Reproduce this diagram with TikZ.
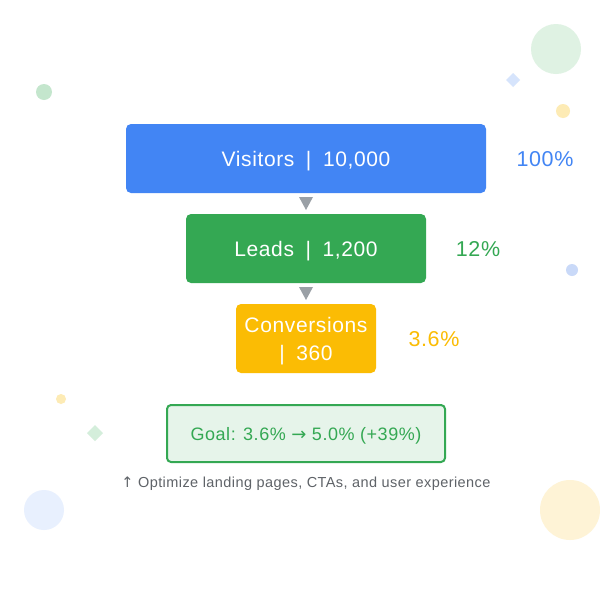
\documentclass[tikz,border=0pt]{standalone}
\usepackage{fontspec}
\setmainfont{Liberation Sans}[LetterSpace=3]
\newfontfamily\symfont{DejaVu Sans}
\usetikzlibrary{shapes.geometric,calc}
\definecolor{gblue}{HTML}{4285F4}
\definecolor{ggreen}{HTML}{34A853}
\definecolor{gyellow}{HTML}{FBBC04}
\definecolor{ggray}{HTML}{9AA0A6}
\definecolor{gtext}{HTML}{5F6368}
\definecolor{goalfill}{HTML}{E6F4EA}
\begin{document}
\begin{tikzpicture}[x=1pt,y=-1pt,
  stage/.style={rounded corners=5pt},
  stagetext/.style={text=white, font=\fontsize{21}{28}\selectfont, anchor=base},
  pct/.style={font=\fontsize{21.5}{24}\selectfont, anchor=base}]
\useasboundingbox (0,0) rectangle (600,600);
\fill[white] (0,0) rectangle (600,600);
% decorations
\fill[color={rgb,255:red,223;green,242;blue,227}] (556,49) circle (25);
\fill[color={rgb,255:red,196;green,230;blue,205}] (44,92) circle (8);
\fill[color={rgb,255:red,214;green,228;blue,252}] (513,73) -- (520,80) -- (513,87) -- (506,80) -- cycle;
\fill[color={rgb,255:red,253;green,235;blue,181}] (563,111) circle (7);
\fill[color={rgb,255:red,201;green,217;blue,248}] (572,270) circle (6);
\fill[color={rgb,255:red,253;green,235;blue,181}] (61,399) circle (5);
\fill[color={rgb,255:red,212;green,238;blue,219}] (95,425) -- (103,433) -- (95,441) -- (87,433) -- cycle;
\fill[color={rgb,255:red,232;green,240;blue,254}] (44,510) circle (20);
\fill[color={rgb,255:red,254;green,243;blue,214}] (570,510) circle (30);
% stages
\node[stage, fill=gblue, minimum width=360pt, minimum height=69pt] (vis) at (306,158.5) {};
\node[stagetext] (vist) at (306,166.5) {Visitors\hspace{0.55em}|\hspace{0.55em}10,000};
\node[stage, fill=ggreen, minimum width=240pt, minimum height=69pt] (lead) at (306,248.5) {};
\node[stagetext] (leadt) at (306,256.5) {Leads\hspace{0.55em}|\hspace{0.55em}1,200};
\node[stage, fill=gyellow, minimum width=140pt, minimum height=69pt] (conv) at (306,338.5) {};
\node[stagetext] (convt1) at (306,332) {Conversions};
\node[stagetext] (convt2) at (306,360) {|\hspace{0.55em}360};
% percentages
\node[pct, text=gblue] (p1) at (545,166.5) {100\%};
\node[pct, text=ggreen] (p2) at (478,256.5) {12\%};
\node[pct, text=gyellow] (p3) at (434,346.5) {3.6\%};
% arrows
\coordinate (a1) at ($(vis.south)!0.5!(lead.north)$);
\fill[ggray] ([xshift=-7pt,yshift=6.5pt]a1) -- ([xshift=7pt,yshift=6.5pt]a1) -- ([yshift=-6.5pt]a1) -- cycle;
\coordinate (a2) at ($(lead.south)!0.5!(conv.north)$);
\fill[ggray] ([xshift=-7pt,yshift=6.5pt]a2) -- ([xshift=7pt,yshift=6.5pt]a2) -- ([yshift=-6.5pt]a2) -- cycle;
% goal
\node[draw=ggreen, line width=2pt, fill=goalfill, rounded corners=4pt, minimum width=278pt, minimum height=57pt] (goal) at (306,433.5) {};
\node[text=ggreen, font=\fontsize{18}{20}\selectfont, anchor=base] (goalt) at (306,440.5) {Goal: 3.6\% {\symfont →} 5.0\% (+39\%)};
\node[text=gtext, font=\fontsize{14.5}{17}\selectfont, anchor=base] (cap) at (306,487) {{\symfont ↑} Optimize landing pages, CTAs, and user experience};
\end{tikzpicture}
\end{document}
